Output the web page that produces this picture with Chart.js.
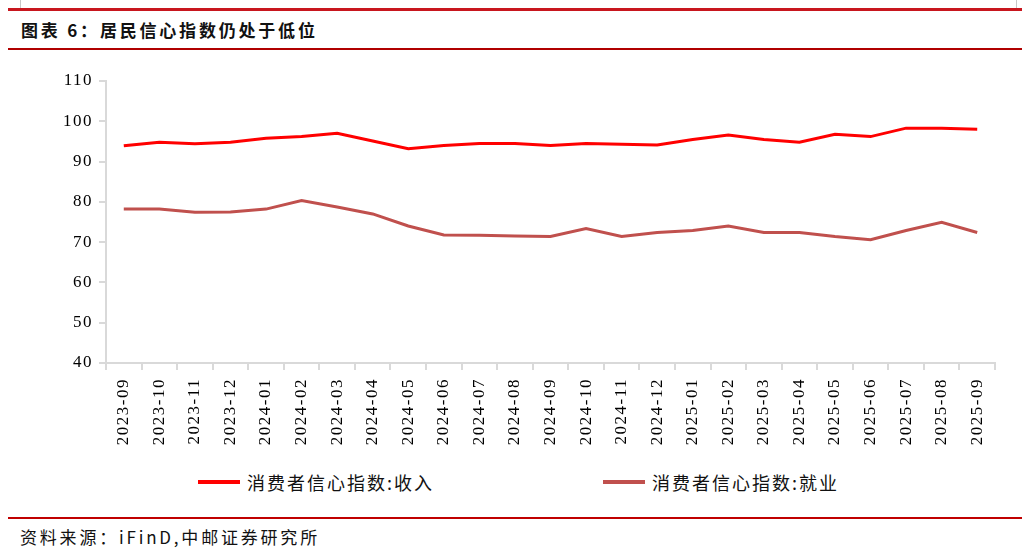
<!DOCTYPE html>
<html>
<head>
<meta charset="utf-8">
<script src="https://cdn.jsdelivr.net/npm/chart.js@4/dist/chart.umd.min.js"></script>
<style>
  html, body { margin: 0; padding: 0; background: #fff; overflow: hidden; }
  body { width: 1022px; height: 560px; position: relative; font-family: "Noto Sans CJK SC", "Noto Sans", sans-serif; }
  .abs { position: absolute; }
  #title { left: 21px; top: 19px; font-size: 17px; font-weight: bold; letter-spacing: 2.8px; color: #111; line-height: 22px; white-space: nowrap; }
  #footer { left: 20px; top: 526px; font-size: 17px; letter-spacing: 2.8px; color: #111; line-height: 22px; white-space: nowrap; }
  #chartBox { left: 0; top: 60px; width: 1022px; height: 400px; }
  .legItem { position: absolute; top: 470px; height: 24px; display: flex; align-items: center; white-space: nowrap; }
  .legLine { width: 42px; height: 3.5px; margin-right: 7px; }
  .legText { font-size: 18px; letter-spacing: 2px; color: #111; line-height: 24px; }
</style>
</head>
<body>
<div class="abs" style="left:20px;top:0;width:1px;height:8px;background:#c8c8c8"></div>
<div class="abs" style="left:1016px;top:0;width:1px;height:8px;background:#c8c8c8"></div>
<div class="abs" style="left:8px;top:8px;width:1014px;height:3px;background:#c8161e"></div>
<div id="title" class="abs">图表 6：居民信心指数仍处于低位</div>
<div class="abs" style="left:8px;top:48px;width:1014px;height:1.5px;background:#b00000"></div>
<div id="chartBox" class="abs"><canvas id="c"></canvas></div>
<div id="legend"></div>
<div class="abs" style="left:8px;top:517px;width:1014px;height:1.5px;background:#c00000"></div>
<div id="footer" class="abs">资料来源：iFinD,中邮证券研究所</div>
<script>
const categories = ["2023-09","2023-10","2023-11","2023-12","2024-01","2024-02","2024-03","2024-04","2024-05","2024-06","2024-07","2024-08","2024-09","2024-10","2024-11","2024-12","2025-01","2025-02","2025-03","2025-04","2025-05","2025-06","2025-07","2025-08","2025-09"];
const incomeValues = [93.9,94.8,94.4,94.8,95.8,96.2,97.0,95.1,93.2,94.0,94.5,94.5,94.0,94.5,94.3,94.1,95.5,96.6,95.5,94.8,96.8,96.2,98.3,98.3,98.0];
const employmentValues = [78.2,78.2,77.4,77.5,78.2,80.3,78.7,77.0,74.0,71.8,71.7,71.5,71.4,73.4,71.4,72.4,72.9,74.0,72.4,72.4,71.4,70.6,72.9,74.9,72.4];
const seriesNames = ["消费者信心指数:收入","消费者信心指数:就业"];
const seriesColors = ["#ff0000","#c0504d"];
const yTicks = [40,50,60,70,80,90,100,110];

const spacingPlugin = {
  id: 'spacing',
  beforeUpdate(chart) { chart.ctx.letterSpacing = '1.5px'; },
  beforeLayout(chart) { chart.ctx.letterSpacing = '1.5px'; },
  beforeDraw(chart) { chart.ctx.letterSpacing = '1.5px'; }
};

const axisGrey = '#d9d9d9';
const chart = new Chart(document.getElementById('c'), {
  type: 'line',
  data: {
    labels: categories,
    datasets: [
      { label: seriesNames[0], data: incomeValues, borderColor: seriesColors[0], backgroundColor: seriesColors[0], borderWidth: 3, pointRadius: 0, tension: 0, fill: false },
      { label: seriesNames[1], data: employmentValues, borderColor: seriesColors[1], backgroundColor: seriesColors[1], borderWidth: 3, pointRadius: 0, tension: 0, fill: false }
    ]
  },
  options: {
    responsive: true,
    maintainAspectRatio: false,
    animation: false,
    layout: { padding: { top: 21, right: 27, left: 0, bottom: 0 } },
    plugins: { legend: { display: false }, tooltip: { enabled: false } },
    scales: {
      x: {
        offset: true,
        grid: { display: true, offset: true, drawOnChartArea: false, drawTicks: true, tickLength: 7, color: axisGrey, lineWidth: 2 },
        border: { display: true, color: axisGrey, width: 2 },
        ticks: { autoSkip: false, minRotation: 90, maxRotation: 90, padding: 8, color: '#000', font: { family: 'Liberation Serif', size: 17 } },
        afterFit(scale) { scale.height = 97; }
      },
      y: {
        min: yTicks[0], max: yTicks[yTicks.length - 1],
        afterBuildTicks(scale) { scale.ticks = yTicks.map(v => ({ value: v })); },
        grid: { display: true, drawOnChartArea: false, drawTicks: true, tickLength: 7, color: axisGrey, lineWidth: 2 },
        border: { display: true, color: axisGrey, width: 2 },
        ticks: { padding: 6, color: '#000', font: { family: 'Liberation Serif', size: 17 } },
        afterFit(scale) { scale.width = 106; }
      }
    }
  },
  plugins: [spacingPlugin]
});

// HTML legend built from the chart's datasets
const legendLefts = [198, 603];
const legend = document.getElementById('legend');
chart.data.datasets.forEach((ds, i) => {
  const item = document.createElement('div');
  item.className = 'legItem';
  item.style.left = legendLefts[i] + 'px';
  const line = document.createElement('div');
  line.className = 'legLine';
  line.style.background = ds.borderColor;
  const txt = document.createElement('span');
  txt.className = 'legText';
  txt.textContent = ds.label;
  item.appendChild(line); item.appendChild(txt);
  legend.appendChild(item);
});
</script>
</body>
</html>
